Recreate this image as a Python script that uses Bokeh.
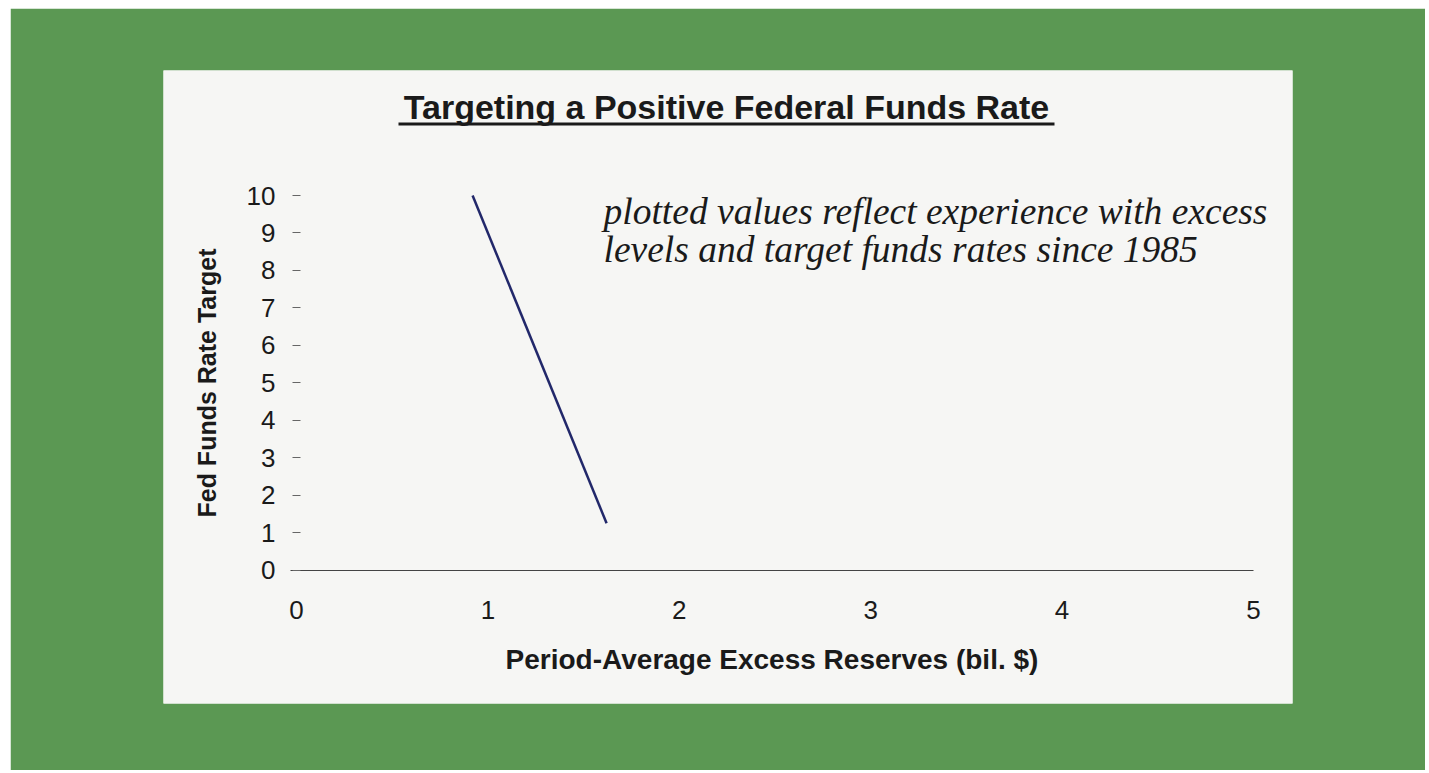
from bokeh.plotting import figure
from bokeh.models import Range1d, LinearAxis, FixedTicker, Label, BoxAnnotation
from bokeh.embed import file_html
from bokeh.resources import INLINE

# ---- data ----
excess_reserves = [0.92, 1.62]        # bil. $
funds_rate_target = [10.0, 1.25]      # percent
x_ticks = [0, 1, 2, 3, 4, 5]
y_ticks = [0, 1, 2, 3, 4, 5, 6, 7, 8, 9, 10]
title_text = "Targeting a Positive Federal Funds Rate"
note_lines = ["plotted values reflect experience with excess",
              "levels and target funds rates since 1985"]
x_label = "Period-Average Excess Reserves (bil. $)"
y_label = "Fed Funds Rate Target"

# ---- layout geometry (pixels) ----
W, H = 1415, 762
ML, MR, MT, MB = 153, 133, 62, 67
frame_w = W - ML - MR
frame_h = H - MT - MB
x0_px = 133.0            # x=0 from frame left
x_scale = 191.4          # px per unit
y0_px = 499.5            # y=0 from frame top
y_scale = 37.45          # px per unit

x_start = -x0_px / x_scale
x_end = (frame_w - x0_px) / x_scale
y_end = y0_px / y_scale
y_start = -(frame_h - y0_px) / y_scale

GREEN = "#5b9853"
PANEL = "#f6f6f4"
INK = "#1a1a1a"
TXT_SHIFT = 11           # empirical baseline correction for labels

p = figure(width=W, height=H, output_backend="svg", toolbar_location=None,
           x_axis_type=None, y_axis_type=None,
           x_range=Range1d(x_start, x_end), y_range=Range1d(y_start, y_end),
           min_border_left=ML, min_border_right=MR,
           min_border_top=MT, min_border_bottom=MB,
           border_fill_color=GREEN, background_fill_color=PANEL,
           outline_line_color=None, margin=(8, 4, 3, 10))

# x axis at y = 0
xa = LinearAxis(fixed_location=0, bounds=(-0.03, 5),
                ticker=FixedTicker(ticks=x_ticks),
                axis_label=x_label,
                axis_line_color="#444444", axis_line_width=1,
                major_tick_line_color=None, minor_tick_line_color=None,
                major_tick_in=0, major_tick_out=0,
                major_label_standoff=31,
                major_label_text_font="Liberation Sans",
                major_label_text_font_size="26px",
                major_label_text_color=INK,
                axis_label_text_font="Liberation Sans",
                axis_label_text_font_size="28px",
                axis_label_text_font_style="bold",
                axis_label_text_color=INK,
                axis_label_standoff=21)
p.add_layout(xa, "below")

# y axis at x = 0
ya = LinearAxis(fixed_location=0, bounds=(0, 10),
                ticker=FixedTicker(ticks=y_ticks),
                axis_label=y_label,
                axis_line_color=None,
                major_tick_line_color="#666666", major_tick_line_width=1,
                major_tick_in=4, major_tick_out=4,
                minor_tick_line_color=None,
                major_label_standoff=17,
                major_label_text_font="Liberation Sans",
                major_label_text_font_size="26px",
                major_label_text_color=INK,
                axis_label_text_font="Liberation Sans",
                axis_label_text_font_size="25px",
                axis_label_text_font_style="bold",
                axis_label_text_color=INK,
                axis_label_standoff=23)
p.add_layout(ya, "left")

# data line
p.line(excess_reserves, funds_rate_target, line_color="#22286a", line_width=2.5)

def px_to_x(px):
    return (px - 163 - x0_px) / x_scale

def py_to_y(py):
    return (y0_px - (py - 70)) / y_scale

# title with underline
title_cx = 726
title_w = 656
p.add_layout(Label(x=px_to_x(title_cx), y=py_to_y(117 - TXT_SHIFT), text=title_text,
                   text_align="center", text_baseline="alphabetic",
                   text_font="Liberation Sans", text_font_style="bold",
                   text_font_size="34px", text_color=INK))
p.add_layout(BoxAnnotation(left=px_to_x(title_cx - title_w / 2),
                           right=px_to_x(title_cx + title_w / 2),
                           top=py_to_y(122), bottom=py_to_y(125),
                           fill_color=INK, fill_alpha=1.0, line_color=None))

# note text
for line, base in zip(note_lines, [222, 260]):
    p.add_layout(Label(x=px_to_x(603), y=py_to_y(base - TXT_SHIFT), text=line,
                       text_align="left", text_baseline="alphabetic",
                       text_font="Liberation Serif", text_font_style="italic",
                       text_font_size="37.5px", text_color=INK))

open("out.html", "w").write(file_html(p, INLINE))
